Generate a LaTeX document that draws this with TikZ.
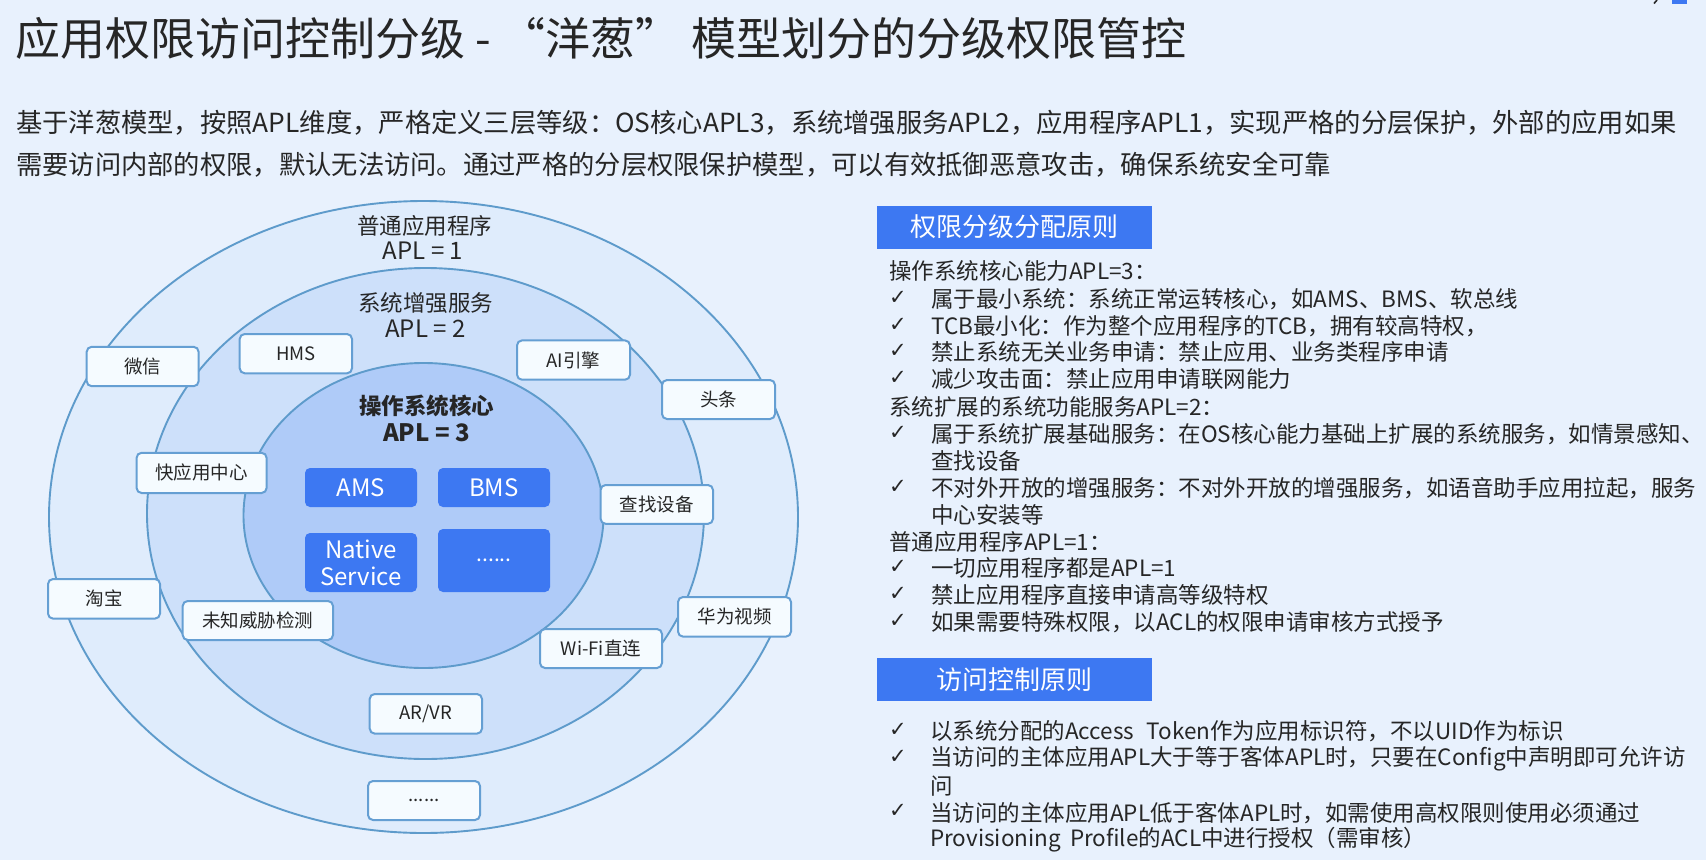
\documentclass[tikz,border=0pt]{standalone}
\usepackage{fontspec}
\setmainfont{Noto Sans CJK SC}
\newfontfamily\chk{DejaVu Sans}
\newcommand{\fs}[1]{\fontsize{#1}{#1}\selectfont}
\definecolor{bgc}{HTML}{E8F1FD}
\definecolor{ring1}{HTML}{DFECFC}
\definecolor{ring2}{HTML}{CDE0FA}
\definecolor{ring3}{HTML}{AFCBF8}
\definecolor{ringline}{HTML}{5E9BCB}
\definecolor{blu}{HTML}{3D78F2}
\definecolor{boxf}{HTML}{F5FBFF}
\definecolor{boxl}{HTML}{659FD3}
\definecolor{ink}{HTML}{262626}
\tikzset{
  x=1pt,y=-1pt,
  ringc/.style={draw=ringline,line width=1.9pt},
  lab/.style={font=\fs{22.5},text=ink,align=center,inner sep=0pt},
  lablat/.style={font=\fs{24},text=ink,align=center,inner sep=0pt},
  lbox/.style={draw=boxl,fill=boxf,line width=2pt,rounded corners=5pt,font=\fs{18.5},text=ink,inner sep=0pt},
  bbox/.style={fill=blu,rounded corners=5pt,font=\fs{24},text=white,inner sep=0pt,align=center},
  hdr/.style={fill=blu,font=\fs{26},text=white,inner sep=0pt},
  body/.style={anchor=west,font=\fs{22.5},text=ink,inner sep=0pt},
  tick/.style={anchor=west,font=\chk\fs{21},text=ink,inner sep=0pt},
}
\newcommand{\boxat}[6]{\node[#1,minimum width=#5-#3,minimum height=#6-#4] (#2) at ({(#3+#5)/2},{(#4+#6)/2})}
\begin{document}
\begin{tikzpicture}
\useasboundingbox (0,0) rectangle (1706,860);
\fill[bgc] (0,0) rectangle (1706,860);
\fill[blu] (1672,0) rectangle (1687,3.5);
\draw[ink,line width=1.6pt] (1654,3.5) -- (1657,0);
\node[anchor=west,inner sep=0pt,font=\fs{45},text=ink] (title) at (15,38) {应用权限访问控制分级 - “洋葱” 模型划分的分级权限管控};
\node[anchor=west,inner sep=0pt,font=\fs{26.3},text=ink] (i1) at (16,123) {基于洋葱模型，按照APL维度，严格定义三层等级：OS核心APL3，系统增强服务APL2，应用程序APL1，实现严格的分层保护，外部的应用如果};
\node[anchor=west,inner sep=0pt,font=\fs{26.3},text=ink] (i2) at (16,165) {需要访问内部的权限，默认无法访问。通过严格的分层权限保护模型，可以有效抵御恶意攻击，确保系统安全可靠};
% rings
\draw[ringc,fill=ring1] (423.5,517) ellipse [x radius=374.5pt,y radius=316pt];
\draw[ringc,fill=ring2] (425.5,513.5) ellipse [x radius=278.5pt,y radius=245.5pt];
\draw[ringc,fill=ring3] (423.5,515.5) ellipse [x radius=180pt,y radius=152.5pt];
\node[lab] (l1a) at (424.5,225.5) {普通应用程序};
\node[lablat] (l1b) at (423,251) {APL = 1};
\node[lab] (l2a) at (425.5,302.5) {系统增强服务};
\node[lablat] (l2b) at (425.5,329) {APL = 2};
\node[lab,font=\bfseries\fs{22.5}] (l3a) at (426.5,406) {操作系统核心};
\node[lablat,font=\bfseries\fs{24}] (l3b) at (426.5,433) {APL = 3};
% boxes
\boxat{lbox}{a}{86.7}{346.8}{198.6}{386.2} {微信};
\boxat{lbox}{b}{239.7}{334}{352}{373.3} {HMS};
\boxat{lbox}{c}{517}{340.4}{630}{379.7} {AI引擎};
\boxat{lbox}{d}{662}{380}{775}{419} {头条};
\boxat{lbox}{e}{136.6}{452.8}{266.6}{493} {快应用中心};
\boxat{lbox}{f}{600.6}{485}{713}{523.8} {查找设备};
\boxat{lbox}{g}{48}{579}{160}{618.6} {淘宝};
\boxat{lbox}{h}{182.7}{601}{333}{640} {未知威胁检测};
\boxat{lbox}{k}{678}{597}{791}{636.6} {华为视频};
\boxat{lbox}{m}{540}{629}{662}{668} {Wi-Fi直连};
\boxat{lbox}{n}{369.7}{694}{482}{733.6} {AR/VR};
\boxat{lbox}{o}{368}{781}{480}{820} {......};
\boxat{bbox}{p}{305}{468}{417}{507} {AMS};
\boxat{bbox}{q}{438}{468}{550}{507} {BMS};
\boxat{bbox}{r}{305}{533}{417}{592} {Native\\[3pt]Service};
\boxat{bbox,font=\fs{21}}{s}{438}{529}{550}{592} {......};
% headers
\boxat{hdr}{h1}{876.7}{205.8}{1152}{248.5} {权限分级分配原则};
\boxat{hdr}{h2}{876.7}{657.5}{1152}{701} {访问控制原则};
% text
\node[body] (t1) at (889,271) {操作系统核心能力APL=3：};
\node[tick] (c2) at (889,298) {✓}; \node[body] (t2) at (931,299) {属于最小系统：系统正常运转核心，如AMS、BMS、软总线};
\node[tick] (c3) at (889,325) {✓}; \node[body] (t3) at (931,326) {TCB最小化：作为整个应用程序的TCB，拥有较高特权，};
\node[tick] (c4) at (889,351) {✓}; \node[body] (t4) at (931,352) {禁止系统无关业务申请：禁止应用、业务类程序申请};
\node[tick] (c5) at (889,378) {✓}; \node[body] (t5) at (931,379) {减少攻击面：禁止应用申请联网能力};
\node[body] (t6) at (889,407) {系统扩展的系统功能服务APL=2：};
\node[tick] (c7) at (889,433) {✓}; \node[body] (t7) at (931,434) {属于系统扩展基础服务：在OS核心能力基础上扩展的系统服务，如情景感知、};
\node[body] (t8) at (931,461) {查找设备};
\node[tick] (c9) at (889,487) {✓}; \node[body] (t9) at (931,488) {不对外开放的增强服务：不对外开放的增强服务，如语音助手应用拉起，服务};
\node[body] (t10) at (931,515) {中心安装等};
\node[body] (t11) at (889,542) {普通应用程序APL=1：};
\node[tick] (c12) at (889,567) {✓}; \node[body] (t12) at (931,568) {一切应用程序都是APL=1};
\node[tick] (c13) at (889,594) {✓}; \node[body] (t13) at (931,595) {禁止应用程序直接申请高等级特权};
\node[tick] (c14) at (889,621) {✓}; \node[body] (t14) at (931,622) {如果需要特殊权限，以ACL的权限申请审核方式授予};
\node[tick] (c15) at (889,730) {✓}; \node[body] (u1) at (930,731.5) {以系统分配的Access\hspace{0.55em}Token作为应用标识符，不以UID作为标识};
\node[tick] (c16) at (889,757) {✓}; \node[body] (u2) at (930,759) {当访问的主体应用APL大于等于客体APL时，只要在Config中声明即可允许访};
\node[body] (u3) at (930,786) {问};
\node[tick] (c17) at (889,811) {✓}; \node[body] (u4) at (930,813) {当访问的主体应用APL低于客体APL时，如需使用高权限则使用必须通过};
\node[body] (u5) at (930,840) {Provisioning\hspace{0.4em}Profile的ACL中进行授权（需审核）};
\end{tikzpicture}
\end{document}
